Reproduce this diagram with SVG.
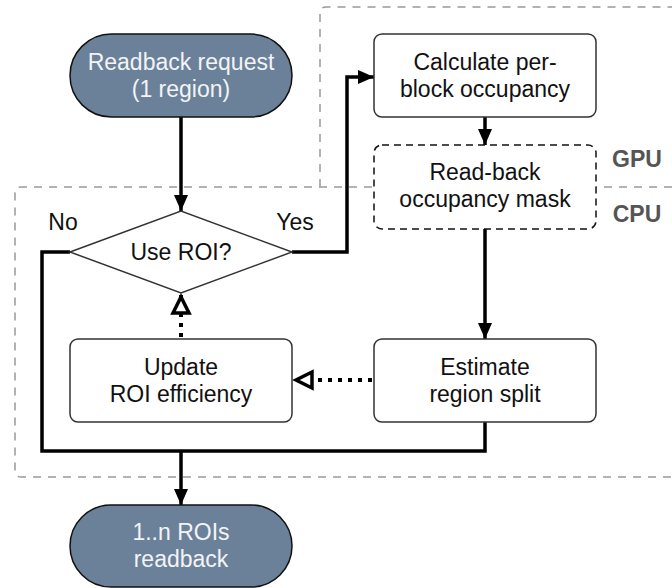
<svg xmlns="http://www.w3.org/2000/svg" width="672" height="588" viewBox="0 0 672 588">
  <style>
    text { font-family: "Liberation Sans", Arial, Helvetica, sans-serif; font-size: 23px; text-anchor: middle; fill: #111; }
    .term rect { fill: #6b8199; stroke: #111; stroke-width: 1.5; }
    .term text { fill: #f2f4f6; }
    .proc rect { fill: #fff; stroke: #333; stroke-width: 1.5; }
    .proc.dash rect { stroke: #111; stroke-dasharray: 7 5; }
    .dec polygon { fill: #fff; stroke: #333; stroke-width: 1.5; }
    .zone { fill: none; stroke: #999; stroke-width: 1.5; stroke-dasharray: 8 7; }
    .zlabel { font-weight: bold; fill: #555; font-size: 23px; }
    .flow { fill: none; stroke: #000; stroke-width: 3.5; }
    .dot { fill: none; stroke: #000; stroke-width: 4; stroke-dasharray: 4 6; }
  </style>
  <defs>
    <marker id="arrow" markerUnits="userSpaceOnUse" markerWidth="16" markerHeight="14" refX="16" refY="7" orient="auto">
      <path d="M0,0 L16,7 L0,14 Z" fill="#000"/>
    </marker>
    <marker id="open" markerUnits="userSpaceOnUse" markerWidth="24" markerHeight="22" refX="22" refY="11" orient="auto">
      <path d="M4,3 L20,11 L4,19 Z" fill="#fff" stroke="#000" stroke-width="3.5" stroke-linejoin="miter"/>
    </marker>
  </defs>

  <!-- processing zones -->
  <g id="zones">
    <path class="zone" d="M320,187 V13 Q320,7 326,7 H672"/>
    <path class="zone" d="M672,187 H21 Q15,187 15,193 V471 Q15,477 21,477 H672"/>
    <text class="zlabel" x="637" y="167">GPU</text>
    <text class="zlabel" x="637" y="222">CPU</text>
  </g>

  <!-- connectors -->
  <g id="connectors">
    <path class="flow" d="M181,117 V211" marker-end="url(#arrow)"/>
    <path class="flow" d="M292,252 H347 V77 H374" marker-end="url(#arrow)"/>
    <path class="flow" d="M485,117 V145" marker-end="url(#arrow)"/>
    <path class="flow" d="M485,229 V339" marker-end="url(#arrow)"/>
    <path class="flow" d="M70,252 H42 V451 H485 V422"/>
    <path class="flow" d="M181,451 V505" marker-end="url(#arrow)"/>
    <path class="dot" d="M372,380 H294" marker-end="url(#open)"/>
    <path class="dot" d="M181,337 V295" marker-end="url(#open)"/>
    <text x="63" y="230">No</text>
    <text x="295" y="230">Yes</text>
  </g>

  <g id="start" class="term">
    <rect x="70" y="34" width="222" height="83" rx="41.5"/>
    <text x="181" y="70">Readback request</text>
    <text x="181" y="97">(1 region)</text>
  </g>

  <g id="use-roi" class="dec">
    <polygon points="70,252 181,211 292,252 181,293"/>
    <text x="181" y="260">Use ROI?</text>
  </g>

  <g id="calc-occupancy" class="proc">
    <rect x="374" y="34" width="222" height="83" rx="8"/>
    <text x="485" y="70">Calculate per-</text>
    <text x="485" y="97">block occupancy</text>
  </g>

  <g id="readback-mask" class="proc dash">
    <rect x="374" y="145" width="222" height="84" rx="8"/>
    <text x="485" y="180">Read-back</text>
    <text x="485" y="207">occupancy mask</text>
  </g>

  <g id="estimate-split" class="proc">
    <rect x="374" y="339" width="222" height="83" rx="8"/>
    <text x="485" y="375">Estimate</text>
    <text x="485" y="402">region split</text>
  </g>

  <g id="update-efficiency" class="proc">
    <rect x="70" y="339" width="222" height="83" rx="8"/>
    <text x="181" y="375">Update</text>
    <text x="181" y="402">ROI efficiency</text>
  </g>

  <g id="end" class="term">
    <rect x="70" y="505" width="222" height="82" rx="41"/>
    <text x="181" y="540">1..n ROIs</text>
    <text x="181" y="567">readback</text>
  </g>
</svg>
